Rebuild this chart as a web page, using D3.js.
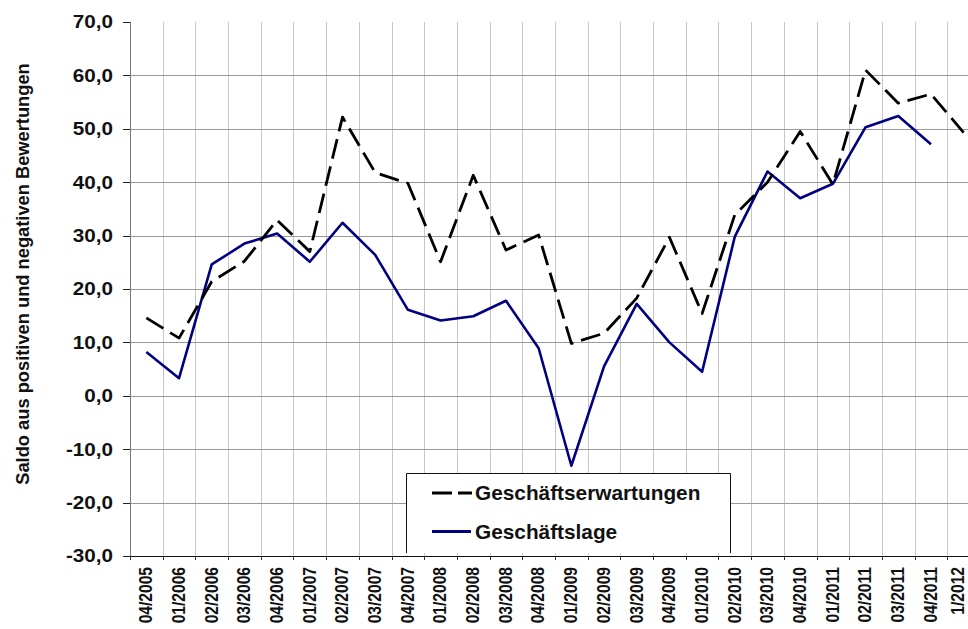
<!DOCTYPE html>
<html>
<head>
<meta charset="utf-8">
<script src="https://cdn.jsdelivr.net/npm/d3@7"></script>
<style>
  html, body { margin: 0; padding: 0; background: #fff; overflow: hidden; }
  svg { display: block; font-family: "Liberation Sans", Arial, sans-serif; }
</style>
</head>
<body>
<svg id="chart" width="968" height="629"></svg>
<script>
// ---- data ----
const categories = ["04/2005","01/2006","02/2006","03/2006","04/2006","01/2007","02/2007","03/2007","04/2007",
  "01/2008","02/2008","03/2008","04/2008","01/2009","02/2009","03/2009","04/2009","01/2010","02/2010","03/2010",
  "04/2010","01/2011","02/2011","03/2011","04/2011","1/2012"];
const erwartungen = [14.6,10.8,21.4,25.2,32.9,27.0,52.2,41.8,39.8,25.1,41.3,27.3,30.1,9.8,11.7,18.3,29.7,15.4,
  33.9,40.0,49.5,39.6,61.0,54.8,56.5,49.3];
const lage = [8.2,3.3,24.6,28.5,30.4,25.1,32.4,26.4,16.1,14.1,14.9,17.8,8.9,-13.1,5.5,17.2,10.0,4.5,
  29.8,42.0,37.0,39.7,50.3,52.4,47.1,null];
const yTicks = [-30,-20,-10,0,10,20,30,40,50,60,70];
const seriesNames = ["Geschäftserwartungen", "Geschäftslage"];
const yTitle = "Saldo aus positiven und negativen Bewertungen";

(function () {
// ---- layout ----
const svg = d3.select("#chart");
const pL = 130, pR = 980, pT = 22, pB = 556;
const x = d3.scaleBand().domain(categories).range([pL, pR]).paddingInner(0).paddingOuter(0);
const y = d3.scaleLinear().domain([-30, 70]).range([pB, pT]);
const cx = c => x(c) + x.bandwidth() / 2;
const fmt = v => v.toFixed(1).replace(".", ",");

// vertical gridlines at category boundaries
const bounds = categories.slice(1).map(c => x(c));
svg.append("g").selectAll("line").data(bounds).join("line")
  .attr("x1", d => Math.round(d) + 0.5).attr("x2", d => Math.round(d) + 0.5)
  .attr("y1", pT).attr("y2", pB)
  .attr("stroke", "#c6c6c6").attr("stroke-width", 1);

// horizontal gridlines
svg.append("g").selectAll("line").data(yTicks.filter(v => v > -30 && v < 70)).join("line")
  .attr("x1", pL).attr("x2", 968)
  .attr("y1", d => Math.round(y(d)) + 0.5).attr("y2", d => Math.round(y(d)) + 0.5)
  .attr("stroke", "#999").attr("stroke-width", 1);

// y axis line + ticks
svg.append("line").attr("x1", pL + 0.5).attr("x2", pL + 0.5).attr("y1", pT).attr("y2", pB)
  .attr("stroke", "#777").attr("stroke-width", 1);
svg.append("g").selectAll("line").data(yTicks).join("line")
  .attr("x1", pL - 7).attr("x2", pL)
  .attr("y1", d => Math.round(y(d)) + 0.5).attr("y2", d => Math.round(y(d)) + 0.5)
  .attr("stroke", "#222").attr("stroke-width", 1);
svg.append("g").selectAll("text").data(yTicks).join("text")
  .attr("transform", d => `translate(113,${y(d)}) scale(1.18,1)`)
  .attr("dy", "0.36em")
  .attr("text-anchor", "end")
  .attr("font-size", "17.5px").attr("font-weight", "bold").attr("fill", "#111")
  .text(fmt);

// x axis line + ticks
svg.append("line").attr("x1", pL).attr("x2", 968).attr("y1", pB + 0.5).attr("y2", pB + 0.5)
  .attr("stroke", "#111").attr("stroke-width", 1);
svg.append("g").selectAll("line").data([pL].concat(bounds)).join("line")
  .attr("x1", d => Math.round(d) + 0.5).attr("x2", d => Math.round(d) + 0.5)
  .attr("y1", pB).attr("y2", pB + 4)
  .attr("stroke", "#333").attr("stroke-width", 1);
svg.append("g").selectAll("text").data(categories).join("text")
  .attr("transform", d => `translate(${Math.min(cx(d) + 5.8, 963.5)},567) rotate(-90) scale(1,1.15)`)
  .attr("text-anchor", "end")
  .attr("font-size", "15.6px").attr("font-weight", "bold").attr("fill", "#111")
  .text(d => d);

// y title
svg.append("text")
  .attr("transform", `translate(29,274) rotate(-90)`)
  .attr("text-anchor", "middle")
  .attr("font-size", "18.3px").attr("font-weight", "bold").attr("fill", "#111")
  .text(yTitle);

// lines
const line = d3.line()
  .defined(d => d.v !== null)
  .x(d => cx(d.c)).y(d => y(d.v));
const dE = categories.map((c, i) => ({ c, v: erwartungen[i] }));
const dL = categories.map((c, i) => ({ c, v: lage[i] }));

svg.append("path").datum(dL).attr("d", line)
  .attr("fill", "none").attr("stroke", "#000080").attr("stroke-width", 2.6)
  .attr("stroke-linejoin", "round");
svg.append("path").datum(dE).attr("d", line)
  .attr("fill", "none").attr("stroke", "#000").attr("stroke-width", 2.8)
  .attr("stroke-dasharray", "20,8").attr("stroke-linejoin", "round");

// legend
const lg = svg.append("g");
lg.append("rect").attr("x", 406).attr("y", 473).attr("width", 324).attr("height", 80)
  .attr("fill", "#fff");
lg.append("path").attr("d", "M406.5,553 V473.5 H730.5 V553")
  .attr("fill", "none").attr("stroke", "#111").attr("stroke-width", 1);
lg.append("line").attr("x1", 432).attr("x2", 472).attr("y1", 493).attr("y2", 493)
  .attr("stroke", "#000").attr("stroke-width", 3).attr("stroke-dasharray", "20,6");
lg.append("line").attr("x1", 432).attr("x2", 471).attr("y1", 531.5).attr("y2", 531.5)
  .attr("stroke", "#000080").attr("stroke-width", 3);
lg.selectAll("text").data(seriesNames).join("text")
  .attr("x", 475).attr("y", (d, i) => i === 0 ? 493 : 531.5)
  .attr("dy", "0.36em")
  .attr("font-size", "20.8px").attr("font-weight", "bold").attr("fill", "#111")
  .text(d => d);
})();
</script>
</body>
</html>
